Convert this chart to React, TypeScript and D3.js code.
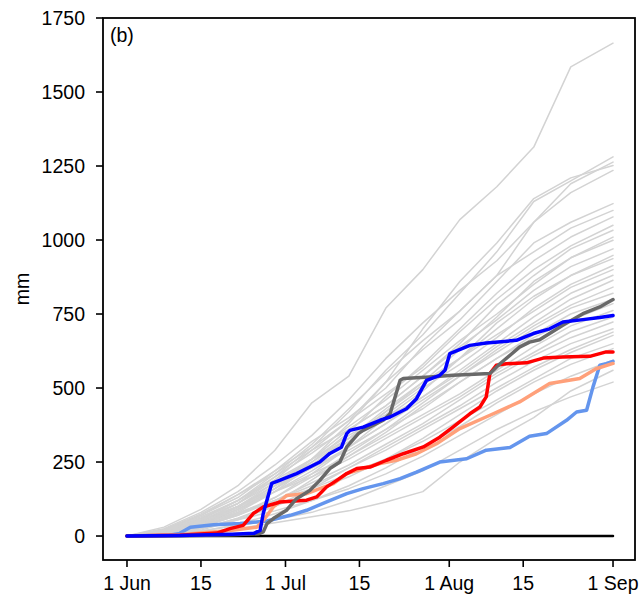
import React from "react";
import * as d3 from "d3";

// days since 1 Jun
const greyDays = [0, 7, 14, 21, 28, 35, 42, 49, 56, 63, 70, 77, 84, 92];

// cumulative rainfall (mm) of the grey background members
const greySeries: number[][] = [
  [0, 30, 90, 170, 290, 450, 540, 770, 900, 1069, 1180, 1314, 1585, 1665],
  [0, 15, 50, 110, 200, 300, 420, 560, 680, 820, 960, 1130, 1200, 1281],
  [0, 20, 70, 130, 220, 320, 400, 500, 640, 760, 880, 1060, 1190, 1263],
  [0, 10, 40, 100, 170, 260, 380, 520, 700, 860, 990, 1140, 1210, 1252],
  [0, 25, 80, 150, 240, 340, 460, 600, 720, 830, 930, 1060, 1160, 1235],
  [0, 12, 50, 110, 190, 290, 390, 520, 630, 730, 860, 990, 1060, 1123],
  [0, 18, 60, 120, 210, 310, 430, 550, 660, 760, 880, 960, 1040, 1100],
  [0, 8, 35, 90, 160, 250, 350, 470, 580, 700, 820, 930, 1010, 1078],
  [0, 20, 70, 140, 220, 300, 390, 480, 570, 690, 800, 900, 980, 1050],
  [0, 10, 45, 95, 170, 260, 360, 440, 540, 650, 780, 880, 970, 1033],
  [0, 15, 55, 120, 200, 280, 370, 460, 560, 660, 750, 850, 940, 1010],
  [0, 5, 30, 80, 150, 240, 320, 420, 520, 630, 740, 860, 940, 999],
  [0, 22, 75, 140, 210, 290, 360, 440, 540, 640, 730, 830, 910, 970],
  [0, 12, 40, 100, 180, 250, 330, 420, 510, 600, 700, 800, 880, 948],
  [0, 6, 30, 70, 130, 210, 300, 400, 490, 600, 720, 810, 880, 937],
  [0, 18, 60, 110, 180, 260, 340, 410, 500, 580, 670, 770, 850, 914],
  [0, 10, 40, 90, 160, 240, 330, 430, 520, 600, 680, 760, 840, 900],
  [0, 14, 50, 100, 170, 230, 300, 380, 470, 560, 650, 740, 820, 881],
  [0, 20, 65, 120, 190, 260, 330, 400, 470, 550, 640, 720, 800, 864],
  [0, 8, 35, 85, 150, 220, 300, 380, 460, 540, 630, 710, 780, 841],
  [0, 15, 50, 100, 160, 230, 290, 360, 450, 540, 620, 700, 770, 820],
  [0, 10, 30, 75, 130, 200, 280, 360, 430, 520, 600, 680, 750, 800],
  [0, 5, 25, 60, 110, 190, 270, 350, 440, 520, 600, 670, 730, 785],
  [0, 12, 45, 90, 150, 210, 270, 340, 410, 480, 560, 640, 710, 762],
  [0, 18, 55, 100, 150, 200, 260, 330, 400, 470, 550, 620, 690, 740],
  [0, 8, 30, 70, 120, 180, 240, 310, 380, 460, 540, 610, 670, 723],
  [0, 4, 20, 55, 100, 160, 230, 300, 370, 440, 520, 590, 650, 700],
  [0, 10, 35, 75, 120, 170, 230, 290, 360, 430, 500, 570, 630, 689],
  [0, 6, 25, 60, 100, 150, 200, 260, 330, 410, 490, 560, 620, 678],
  [0, 12, 40, 80, 120, 160, 210, 260, 320, 390, 460, 530, 600, 650],
  [0, 4, 15, 40, 75, 120, 170, 230, 300, 370, 450, 520, 580, 633],
  [0, 8, 25, 55, 85, 120, 160, 210, 270, 340, 410, 480, 540, 594],
  [0, 3, 10, 25, 45, 65, 85, 115, 150, 250, 330, 400, 490, 560],
  [0, 5, 18, 35, 55, 80, 120, 170, 220, 290, 360, 420, 470, 520],
];

const blueDays = [0, 10, 20, 24, 25.2, 25.8, 27.4, 29, 32.1, 36.5, 38.4, 40.6, 41.6, 42.2, 44.7, 47.9, 49.8, 52.9, 54.8, 56.7, 59.2, 60.2, 61.1, 64.9, 68, 73.7, 76.9, 80, 82.5, 86.3, 89.5, 92];
const blueVals = [0, 2, 6, 9, 19, 77, 178, 189, 211, 250, 279, 300, 346, 357, 368, 391, 402, 430, 464, 526, 543, 560, 616, 644, 652, 661, 684, 700, 723, 731, 738, 745];

const darkDays = [0, 10, 20, 25, 25.8, 26.5, 27.7, 30.2, 32.1, 34.6, 36.5, 38.4, 40.3, 41.6, 43.8, 44.7, 48.5, 49.8, 51.7, 52.3, 57.3, 61.7, 68.7, 70.6, 74.3, 76.2, 78.1, 82.5, 86.3, 89.5, 92];
const darkVals = [0, 1, 4, 8, 14, 42, 59, 87, 126, 154, 188, 228, 250, 301, 346, 357, 391, 413, 526, 532, 537, 543, 549, 582, 638, 655, 663, 712, 751, 774, 799];

const redDays = [0, 10, 17, 19.5, 22, 23.9, 25.8, 29, 34, 35.9, 37.8, 39.7, 41.6, 43.5, 46, 49.1, 52.3, 56.1, 59.2, 61.7, 64.9, 66.8, 68, 68.7, 69.9, 71.8, 75.6, 78.8, 82.5, 87.6, 90.7, 92];
const redVals = [0, 3, 10, 25, 36, 76, 98, 115, 121, 132, 166, 188, 211, 228, 233, 256, 278, 301, 334, 368, 413, 436, 470, 549, 577, 582, 585, 601, 605, 607, 622, 622];

const salmonDays = [0, 10, 19.5, 24.6, 25.8, 27.7, 30.2, 34, 36.5, 39.1, 41.6, 44.7, 47.9, 51, 54.8, 58.6, 63, 68.7, 74.3, 80, 85.7, 88.8, 92];
const salmonVals = [0, 4, 19, 30, 53, 98, 137, 143, 160, 177, 211, 228, 245, 256, 278, 312, 363, 408, 453, 515, 532, 565, 583];

const cornDays = [0, 8, 10, 12, 16.4, 21.4, 26.5, 30.9, 34, 37.8, 41.6, 44.7, 48.5, 51.7, 54.8, 59.2, 64.3, 68, 72.5, 76.2, 79.4, 83.2, 85.1, 87, 88.2, 89.5, 90.7, 92];
const cornVals = [0, 3, 9, 30, 38, 42, 51, 70, 87, 115, 143, 160, 177, 194, 216, 250, 261, 290, 299, 337, 346, 391, 419, 425, 503, 577, 582, 590];

const zeroDays = [0, 92];
const zeroVals = [0, 0];

const xTickDays = [0, 14, 30, 44, 61, 75, 92];
const xTickLabels = ["1 Jun", "15", "1 Jul", "15", "1 Aug", "15", "1 Sep"];
const yTicks = [0, 250, 500, 750, 1000, 1250, 1500, 1750];

const W = 641;
const H = 596;
const margin = { left: 103, right: 635, top: 18, bottom: 560 };
const font = "'Liberation Sans', Arial, sans-serif";

export default function App() {
  const x = d3.scaleLinear().domain([-4.54, 96.16]).range([margin.left, margin.right]);
  const y = d3.scaleLinear().domain([-81, 1750]).range([margin.bottom, margin.top]);

  const path = (days: number[], vals: number[]) =>
    d3
      .line<number>()
      .x((_, i) => x(days[i]))
      .y((v) => y(v))(vals) || "";

  const colored = [
    { days: cornDays, vals: cornVals, color: "#6495ed" },
    { days: salmonDays, vals: salmonVals, color: "#ffa07a" },
    { days: redDays, vals: redVals, color: "#ff0000" },
    { days: darkDays, vals: darkVals, color: "#696969" },
    { days: blueDays, vals: blueVals, color: "#0000ff" },
  ];

  return (
    <svg
      width={W}
      height={H}
      style={{ position: "absolute", left: 0, top: 0, background: "#fff" }}
      fontFamily={font}
    >
      <defs>
        <clipPath id="plot">
          <rect x={margin.left} y={margin.top} width={margin.right - margin.left} height={margin.bottom - margin.top} />
        </clipPath>
      </defs>
      <g clipPath="url(#plot)" fill="none" strokeLinejoin="round" strokeLinecap="round">
        {greySeries.map((s, i) => (
          <path key={i} d={path(greyDays, s)} stroke="#d3d3d3" strokeWidth={1.5} />
        ))}
        <path d={path(zeroDays, zeroVals)} stroke="#000" strokeWidth={2.4} />
        {colored.map((c, i) => (
          <path key={i} d={path(c.days, c.vals)} stroke={c.color} strokeWidth={3.5} />
        ))}
      </g>
      <rect
        x={margin.left}
        y={margin.top}
        width={margin.right - margin.left}
        height={margin.bottom - margin.top}
        fill="none"
        stroke="#000"
        strokeWidth={1.8}
      />
      {yTicks.map((t) => (
        <g key={t}>
          <line x1={margin.left - 7} x2={margin.left} y1={y(t)} y2={y(t)} stroke="#000" strokeWidth={1.6} />
          <text x={margin.left - 18} y={y(t)} dy="0.36em" textAnchor="end" fontSize={19.5}>
            {t}
          </text>
        </g>
      ))}
      {xTickDays.map((d, i) => (
        <g key={i}>
          <line x1={x(d)} x2={x(d)} y1={margin.bottom} y2={margin.bottom + 7} stroke="#000" strokeWidth={1.6} />
          <text x={x(d)} y={590} textAnchor="middle" fontSize={19.5}>
            {xTickLabels[i]}
          </text>
        </g>
      ))}
      <text transform={`translate(29,${(margin.top + margin.bottom) / 2}) rotate(-90)`} textAnchor="middle" fontSize={19.5}>
        mm
      </text>
      <text x={110} y={42} fontSize={19.5}>
        (b)
      </text>
    </svg>
  );
}
